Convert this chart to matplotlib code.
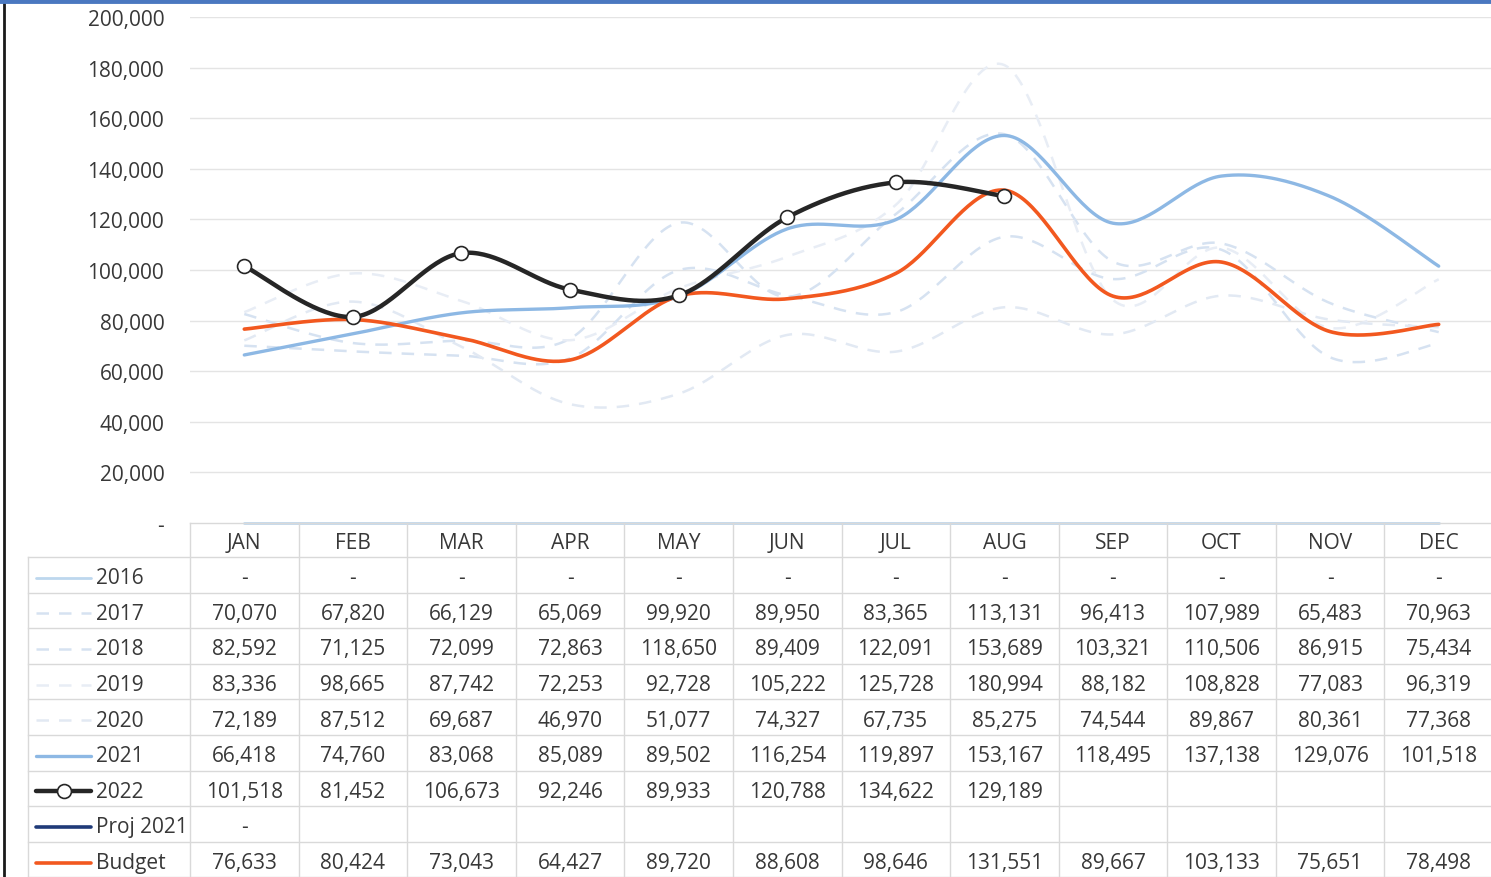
"""Monthly revenue by year: smoothed Excel-style line chart with data table."""
import matplotlib
matplotlib.use("Agg")
import matplotlib.pyplot as plt
from matplotlib.lines import Line2D
import numpy as np

plt.rcParams["font.family"] = ["Open Sans", "DejaVu Sans"]

W, H = 1491, 878
TXT = "#383838"
GRID = "#d9d9d9"
FS = 15

months = ["JAN", "FEB", "MAR", "APR", "MAY", "JUN",
          "JUL", "AUG", "SEP", "OCT", "NOV", "DEC"]
series_names = ["2016", "2017", "2018", "2019", "2020", "2021",
                "2022", "Proj 2021", "Budget"]

y2016 = [0] * 12
y2017 = [70070, 67820, 66129, 65069, 99920, 89950, 83365, 113131, 96413, 107989, 65483, 70963]
y2018 = [82592, 71125, 72099, 72863, 118650, 89409, 122091, 153689, 103321, 110506, 86915, 75434]
y2019 = [83336, 98665, 87742, 72253, 92728, 105222, 125728, 180994, 88182, 108828, 77083, 96319]
y2020 = [72189, 87512, 69687, 46970, 51077, 74327, 67735, 85275, 74544, 89867, 80361, 77368]
y2021 = [66418, 74760, 83068, 85089, 89502, 116254, 119897, 153167, 118495, 137138, 129076, 101518]
y2022 = [101518, 81452, 106673, 92246, 89933, 120788, 134622, 129189]
proj2021 = [0]
budget = [76633, 80424, 73043, 64427, 89720, 88608, 98646, 131551, 89667, 103133, 75651, 78498]

yticks = list(range(0, 200001, 20000))

data = [y2016, y2017, y2018, y2019, y2020, y2021, y2022, proj2021, budget]
styles = [
    dict(color="#bdd7ee", lw=2.0, ls="-"),
    dict(color="#d6e2f1", lw=1.8, ls=(0, (5, 4))),
    dict(color="#d6e2f1", lw=1.8, ls=(0, (5, 4))),
    dict(color="#e8edf5", lw=1.8, ls=(0, (5, 4))),
    dict(color="#e2e9f3", lw=1.8, ls=(0, (5, 4))),
    dict(color="#8db8e4", lw=2.4, ls="-"),
    dict(color="#262626", lw=3.2, ls="-"),
    dict(color="#1f3a78", lw=2.6, ls="-"),
    dict(color="#f2581f", lw=2.6, ls="-"),
]
zorders = [2, 2, 2, 2, 2, 3, 5, 4, 4]


def smooth(xs, ys, n=40):
    """Excel-like smoothed line: cubic Bezier with Catmull-Rom controls."""
    xs = np.asarray(xs, float)
    ys = np.asarray(ys, float)
    if len(xs) < 2:
        return xs, ys
    P = np.column_stack([xs, ys])
    out = [P[0]]
    t = np.linspace(0, 1, n)[1:, None]
    for i in range(len(P) - 1):
        p0 = P[max(i - 1, 0)]
        p1, p2 = P[i], P[i + 1]
        p3 = P[min(i + 2, len(P) - 1)]
        c1 = p1 + (p2 - p0) / 6
        c2 = p2 - (p3 - p1) / 6
        seg = ((1 - t) ** 3) * p1 + 3 * ((1 - t) ** 2) * t * c1 \
            + 3 * (1 - t) * t ** 2 * c2 + t ** 3 * p2
        out.extend(seg)
    out = np.array(out)
    return out[:, 0], out[:, 1]


fig = plt.figure(figsize=(W / 100, H / 100), dpi=100)

# ── chart area ───────────────────────────────────────────────────────────────
left, right, top, bot = 190, 1493, 18, 524
ax = fig.add_axes([left / W, 1 - bot / H, (right - left) / W, (bot - top) / H])
ax.set_xlim(-0.5, 11.5)
ax.set_ylim(0, 200000)
for s in ax.spines.values():
    s.set_visible(False)
ax.set_xticks([])
ax.set_yticks(yticks)
ax.set_yticklabels([f"{v:,}" if v else "-" for v in yticks],
                   fontsize=FS, color=TXT)
ax.tick_params(axis="y", length=0, pad=18.5)
for v in yticks[1:]:
    ax.axhline(v, color="#e4e4e4", lw=1, zorder=1)

for vals, st, z in zip(data, styles, zorders):
    xs = np.arange(len(vals))
    sx, sy = smooth(xs, vals)
    ax.plot(sx, sy, color=st["color"], lw=st["lw"], ls=st["ls"],
            solid_capstyle="round", zorder=z, clip_on=False)
ax.plot(np.arange(len(y2022)), y2022, ls="none", marker="o", ms=10,
        mfc="white", mec="#262626", mew=1.2, zorder=6, clip_on=False)

# ── data table ───────────────────────────────────────────────────────────────
tb = fig.add_axes([0, 0, 1, 1])
tb.set_xlim(0, W)
tb.set_ylim(H, 0)
tb.axis("off")

colw = (right - left) / 12
hdr_top, hdr_bot = 524, 558
rowh = 35.6
row_tops = [hdr_bot + i * rowh for i in range(len(series_names) + 1)]

# grid lines
tb.plot([left, W], [hdr_top, hdr_top], color=GRID, lw=1)
for yv in row_tops:
    tb.plot([28, W], [yv, yv], color=GRID, lw=1)
tb.plot([28, 28], [hdr_bot, H], color=GRID, lw=1)
for i in range(13):
    x = left + i * colw
    tb.plot([x, x], [hdr_top, H], color=GRID, lw=1)

for i, m in enumerate(months):
    tb.text(left + (i + 0.5) * colw, (hdr_top + hdr_bot) / 2 + 3, m,
            ha="center", va="center", fontsize=FS, color=TXT)

for r, (name, vals, st) in enumerate(zip(series_names, data, styles)):
    yc = row_tops[r] + rowh / 2 + 3
    tb.add_line(Line2D([36, 91], [yc, yc], color=st["color"], lw=st["lw"],
                       ls=st["ls"], solid_capstyle="round"))
    if name == "2022":
        tb.plot([63.5], [yc], marker="o", ms=10, mfc="white",
                mec="#262626", mew=1.2)
    tb.text(96, yc, name, ha="left", va="center", fontsize=FS, color=TXT)
    for i, v in enumerate(vals):
        tb.text(left + (i + 0.5) * colw, yc, f"{v:,}" if v else "-",
                ha="center", va="center", fontsize=FS, color=TXT)

# frame edges of the original screenshot
tb.plot([4, 4], [0, H], color="#1a1a1a", lw=2)
tb.plot([0, W], [1.5, 1.5], color="#4a78c0", lw=3.5)

fig.savefig("out.png", facecolor="white")
plt.close(fig)
